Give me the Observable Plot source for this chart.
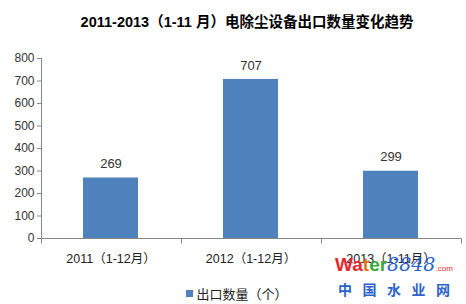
<!DOCTYPE html>
<html><head><meta charset="utf-8">
<script src="https://cdn.jsdelivr.net/npm/d3@7"></script>
<script src="https://cdn.jsdelivr.net/npm/@observablehq/plot@0.6"></script>
<style>
body{margin:0;background:#fff;width:466px;height:304px;overflow:hidden;position:relative;font-family:"Liberation Sans","Noto Sans CJK SC",sans-serif;}
#title{height:44px;line-height:44px;text-align:center;font-weight:bold;font-size:14.5px;color:#000;padding-left:28px;box-sizing:border-box;white-space:nowrap;font-family:"Liberation Sans","Noto Sans CJK SC",sans-serif;}
#legend{height:22px;display:flex;align-items:center;justify-content:center;font-size:13px;color:#222;padding-left:8px;box-sizing:border-box;}
#legend span.sw{display:inline-block;width:7px;height:7px;background:#4F81BD;margin-right:3px;}
#wm{position:absolute;left:335px;top:252px;width:131px;white-space:nowrap;}
#wm .a{height:24px;line-height:24px;}
#wm .w{font-family:"Liberation Sans",sans-serif;font-size:19px;font-weight:bold;}
#wm .n{font-family:"DejaVu Serif",serif;font-style:italic;font-size:19px;color:#2a62c9;}
#wm .c{font-family:"Liberation Sans",sans-serif;font-size:8px;color:#e8262d;}
#wm .b{font-family:"Noto Sans CJK SC",sans-serif;font-size:14px;font-weight:bold;color:#2a62c9;letter-spacing:10.5px;line-height:18px;margin-left:3px;margin-top:4px;}
svg text{font-family:"Liberation Sans","Noto Sans CJK SC",sans-serif;}
</style></head>
<body>
<div id="title">2011-2013（1-11 月）电除尘设备出口数量变化趋势</div>
<div id="chart"></div>
<div id="legend"><span class="sw"></span>出口数量（个）</div>
<div id="wm"><div class="a"><span class="w"><span style="color:#e8262d">Wa</span><span style="color:#e0741c">t</span><span style="color:#3aa83a">er</span></span><span class="n">8848</span><span class="c">.com</span></div><div class="b">中国水业网</div></div>
<script>
const categories = ["2011（1-12月）", "2012（1-12月）", "2013（1-11月）"];
const values = [269, 707, 299];
const yTicks = [0, 100, 200, 300, 400, 500, 600, 700, 800];
const seriesName = "出口数量（个）";

const data = categories.map((c, i) => ({cat: c, value: values[i]}));
const axisColor = "#868686";

function frameLines(index, scales, vals, dims) {
  const {width, height, marginLeft, marginRight, marginTop, marginBottom} = dims;
  const g = d3.create("svg:g").attr("stroke", axisColor).attr("stroke-width", 1).attr("fill", "none");
  const x0 = marginLeft + 0.5, yb = height - marginBottom + 0.5;
  g.append("line").attr("x1", x0).attr("x2", x0).attr("y1", marginTop).attr("y2", yb);
  g.append("line").attr("x1", x0).attr("x2", width - marginRight).attr("y1", yb).attr("y2", yb);
  const step = (width - marginLeft - marginRight) / categories.length;
  for (let i = 0; i <= categories.length; i++) {
    const xx = Math.round(marginLeft + i * step) + 0.5;
    g.append("line").attr("x1", xx).attr("x2", xx).attr("y1", yb).attr("y2", yb + 5);
  }
  return g.node();
}

const chart = Plot.plot({
  width: 466,
  height: 238,
  marginTop: 14,
  marginBottom: 44,
  marginLeft: 41,
  marginRight: 5,
  style: {fontSize: "12px", color: "#333", background: "white"},
  x: {domain: categories, paddingInner: 0.607, paddingOuter: 0.3035},
  y: {domain: [0, 800]},
  marks: [
    Plot.barY(data, {x: "cat", y: "value", fill: "#4F81BD"}),
    Plot.text(data, {x: "cat", y: "value", text: d => String(d.value), dy: -14, fontSize: 13, fill: "#333"}),
    Plot.axisY({ticks: yTicks, tickSize: 4, tickPadding: 3, stroke: axisColor, fill: "#333", fontSize: 12, label: null}),
    Plot.axisX({tickSize: 0, tickPadding: 16, fill: "#222", fontSize: 12.5, label: null}),
    frameLines
  ]
});
document.getElementById("chart").append(chart);
</script>
</body></html>
